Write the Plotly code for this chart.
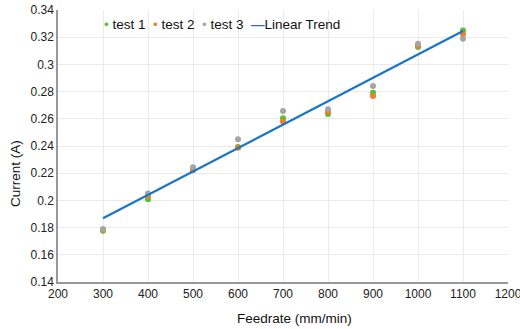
import plotly.graph_objects as go

feedrate = [300, 400, 500, 600, 700, 800, 900, 1000, 1100]
test1 = [0.1777, 0.2008, 0.2228, 0.2392, 0.2604, 0.2635, 0.2792, 0.3128, 0.3250]
test2 = [0.1785, 0.2030, 0.2222, 0.2388, 0.2581, 0.2652, 0.2768, 0.3138, 0.3221]
test3 = [0.1790, 0.2050, 0.2243, 0.2449, 0.2657, 0.2670, 0.2841, 0.3152, 0.3189]
trend_x = [300, 1100]
trend_y = [0.1868, 0.3246]

series = [("test 1", test1, "#52C234"), ("test 2", test2, "#F47B29"), ("test 3", test3, "#A5A5A5")]
trend_name, trend_color = "Linear Trend", "#1A75C9"

fig = go.Figure()
for name, ys, col in series:
    fig.add_trace(go.Scatter(x=feedrate, y=ys, mode="markers", name=name,
                             marker=dict(color=col, size=6)))
fig.add_trace(go.Scatter(x=trend_x, y=trend_y, mode="lines", name=trend_name,
                         line=dict(color=trend_color, width=2.2)))

# compact legend like the original (dot right next to label)
parts = []
for name, _, col in series:
    parts.append(f"<span style='color:{col}'>•</span> {name}")
parts.append(f"<span style='color:{trend_color}'><b>—</b></span>{trend_name}")
legend_text = "&nbsp; ".join(parts)

fig.update_layout(
    width=520, height=329,
    margin=dict(l=58, r=12, t=10, b=47),
    paper_bgcolor="white", plot_bgcolor="white",
    font=dict(family="Liberation Sans, Arial, sans-serif", size=12, color="#222"),
    showlegend=False,
    annotations=[
        dict(text=legend_text, xref="paper", yref="paper", x=(102 - 58) / 450, y=(282 - 24) / 272,
             xanchor="left", yanchor="middle", showarrow=False, font=dict(size=13.5, color="#111")),
        dict(text="Feedrate (mm/min)", xref="paper", yref="paper", x=(294.5 - 58) / 450, y=-36 / 272,
             xanchor="center", yanchor="middle", showarrow=False, font=dict(size=13.5, color="#111")),
        dict(text="Current (A)", xref="paper", yref="paper", x=-43 / 450, y=(282 - 174) / 272,
             xanchor="center", yanchor="middle", textangle=-90, showarrow=False,
             font=dict(size=13.5, color="#111")),
    ],
)
fig.update_xaxes(range=[200, 1200], dtick=100, tick0=200, showgrid=True, gridcolor="#EBEBEB",
                 showline=True, linecolor="#999", linewidth=1.5, zeroline=False, ticks="",
                 ticklabeloverflow="allow", automargin=False)
fig.update_yaxes(range=[0.14, 0.34], dtick=0.02, tick0=0.14, showgrid=True, gridcolor="#EBEBEB",
                 showline=True, linecolor="#999", linewidth=1.5, zeroline=False, ticks="",
                 ticklabeloverflow="allow", automargin=False)

fig.write_html("out.html")
